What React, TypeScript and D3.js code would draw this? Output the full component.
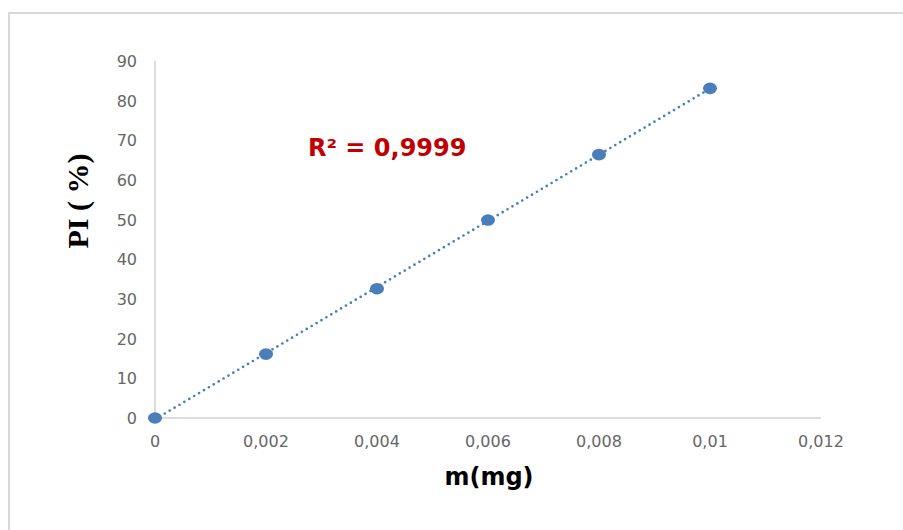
import React from "react";
import * as d3 from "d3";

const massMg: number[] = [0, 0.002, 0.004, 0.006, 0.008, 0.01];
const piPercent: number[] = [0, 16.1, 32.6, 49.9, 66.4, 83.1];
const xTickValues: number[] = [0, 0.002, 0.004, 0.006, 0.008, 0.01, 0.012];
const yTickValues: number[] = [0, 10, 20, 30, 40, 50, 60, 70, 80, 90];
const r2Label = "R² = 0,9999";
const xTitle = "m(mg)";
const yTitle = "PI ( %)";

const W = 903;
const H = 530;
const left = 155;
const right = 821;
const top = 61;
const bottom = 418;

const fmtX = (v: number) => (v === 0 ? "0" : String(+v.toFixed(3)).replace(".", ","));

export default function App() {
  const x = d3.scaleLinear().domain([0, 0.012]).range([left, right]);
  const y = d3.scaleLinear().domain([0, 90]).range([bottom, top]);

  const mx = d3.mean(massMg) as number;
  const my = d3.mean(piPercent) as number;
  let sxy = 0;
  let sxx = 0;
  massMg.forEach((m, i) => {
    sxy += (m - mx) * (piPercent[i] - my);
    sxx += (m - mx) * (m - mx);
  });
  const slope = sxy / sxx;
  const intercept = my - slope * mx;
  const x0 = d3.min(massMg) as number;
  const x1 = d3.max(massMg) as number;
  const trend = d3.line<number>()
    .x((d) => x(d))
    .y((d) => y(intercept + slope * d))([x0, x1]) as string;

  const tickFont = "'DejaVu Sans', sans-serif";

  return (
    <svg
      width={W}
      height={H}
      style={{ position: "absolute", left: 0, top: 0, background: "#fff" }}
    >
      <rect x={9} y={13} width={1200} height={1200} fill="#fff" stroke="#d9d9d9" strokeWidth={2} />
      <line x1={left} x2={left} y1={top} y2={bottom} stroke="#d0d0d0" strokeWidth={1.5} />
      <line x1={left} x2={right} y1={bottom} y2={bottom} stroke="#d0d0d0" strokeWidth={1.5} />

      {yTickValues.map((v) => (
        <text
          key={"y" + v}
          x={137}
          y={y(v) + 6}
          textAnchor="end"
          fontFamily={tickFont}
          fontSize={16}
          fill="#666666"
        >
          {String(v)}
        </text>
      ))}
      {xTickValues.map((v) => (
        <text
          key={"x" + v}
          x={x(v)}
          y={447}
          textAnchor="middle"
          fontFamily={tickFont}
          fontSize={16}
          fill="#666666"
        >
          {fmtX(v)}
        </text>
      ))}

      <path
        d={trend}
        fill="none"
        stroke="#4a7ebb"
        strokeWidth={2.7}
        strokeDasharray="0 5.7"
        strokeLinecap="round"
      />

      {massMg.map((m, i) => (
        <ellipse key={"p" + i} cx={x(m)} cy={y(piPercent[i])} rx={7} ry={5.8} fill="#4a7ebb" />
      ))}

      <text
        x={308}
        y={156}
        fontFamily={tickFont}
        fontWeight="bold"
        fontSize={24}
        fill="#c00000"
      >
        {r2Label}
      </text>

      <text
        x={489}
        y={485}
        textAnchor="middle"
        fontFamily={tickFont}
        fontWeight="bold"
        fontSize={24}
        fill="#000"
      >
        {xTitle}
      </text>

      <text
        transform={`translate(88,201) rotate(-90)`}
        textAnchor="middle"
        fontFamily="'Liberation Serif', 'Times New Roman', serif"
        fontWeight="bold"
        fontSize={30}
        fill="#000"
      >
        {yTitle}
      </text>
    </svg>
  );
}
